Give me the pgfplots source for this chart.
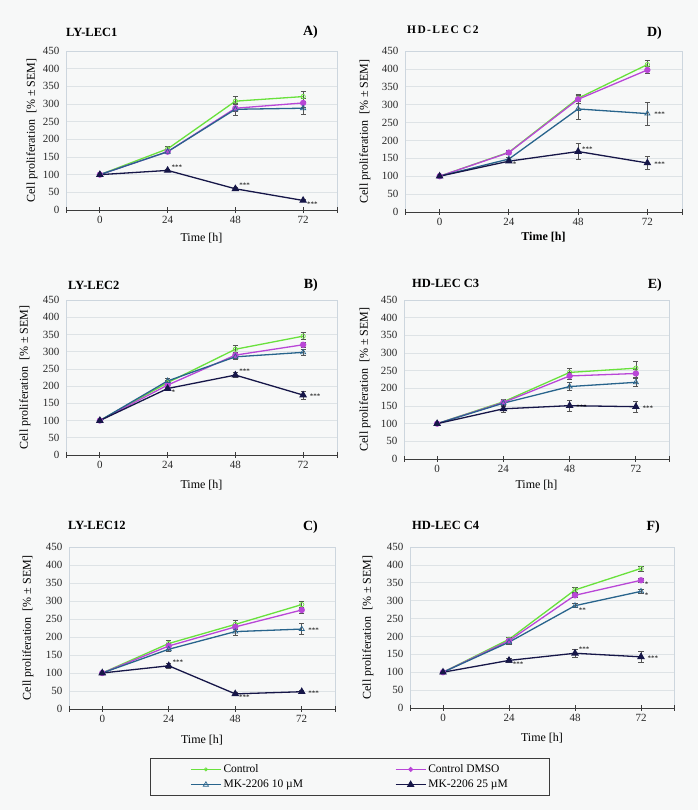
\documentclass[border=0pt]{standalone}
\usepackage{fontspec}
\setmainfont{Liberation Serif}
\usepackage{pgfplots}
\pgfplotsset{compat=1.18}
\definecolor{bgc}{RGB}{247,248,248}
\definecolor{cgreen}{RGB}{105,225,60}
\definecolor{cmag}{RGB}{185,70,215}
\definecolor{cblue}{RGB}{40,100,140}
\definecolor{cnavy}{RGB}{22,22,72}
\definecolor{errc}{RGB}{85,85,85}
\definecolor{gridc}{RGB}{222,227,230}
\definecolor{framec}{RGB}{205,214,222}
\definecolor{axisc}{RGB}{60,60,60}
\definecolor{tickc}{RGB}{40,40,40}
\tikzset{
 ast/.style={font=\fontsize{7}{8}\selectfont, inner sep=1pt, text=black},
 ptitle/.style={font=\bfseries\fontsize{12.5}{14}\selectfont, anchor=west, inner sep=0pt},
 pletter/.style={font=\bfseries\fontsize{14}{16}\selectfont, anchor=east, inner sep=0pt},
}
\pgfplotsset{
 panel/.style={
  scale only axis, anchor=south west, clip=false,
  xmin=-12,xmax=84,ymin=0,ymax=450,
  xtick={0,24,48,72}, ytick={0,50,...,450},
  extra x ticks={-12,84}, extra x tick labels={},
  ymajorgrids, grid style={draw=gridc, line width=0.6pt},
  axis line style={draw=framec, line width=0.6pt},
  xtick pos=bottom, ytick pos=left,
  ytick style={draw=none},
  xtick style={draw=axisc, line width=0.8pt},
  tick align=center, major tick length=6pt,
  ticklabel style={font=\fontsize{11}{12}\selectfont, text=tickc},
  /pgf/number format/assume math mode=true,
  xlabel={Time [h]},
  ylabel={Cell proliferation\ \ [\% ± SEM]},
  xlabel style={font=\fontsize{12}{14}\selectfont, at={(rel axis cs:0.5,0)}, anchor=center},
  ylabel style={font=\fontsize{12}{14}\selectfont, at={(rel axis cs:0,0.5)}, anchor=center},
  after end axis/.code={\draw[axisc, line width=0.9pt] (rel axis cs:0,0)--(rel axis cs:1,0);},
 },
 labsh/.style 2 args={xlabel style={yshift=-#1}, ylabel style={yshift=#2}},
 eb/.style={error bars/.cd, y dir=both, y explicit,
   error bar style={draw=errc, line width=0.7pt},
   error mark options={rotate=90, mark size=2.6pt, draw=errc, line width=0.7pt}},
 lctrl/.style={color=cgreen, line width=1.3pt, mark=o, mark size=2.2pt, mark options={solid, fill=white, line width=0.7pt}},
 ldmso/.style={color=cmag, line width=1.3pt, mark=*, mark size=2.5pt, mark options={solid, fill=cmag}},
 lmk10/.style={color=cblue, line width=1.3pt, mark=triangle, mark size=3pt, mark options={solid, fill=white, line width=0.7pt}},
 lmk25/.style={color=cnavy, line width=1.3pt, mark=triangle*, mark size=3.2pt, mark options={solid, fill=cnavy}},
 sctrl/.style={lctrl, eb},
 sdmso/.style={ldmso, eb},
 smk10/.style={lmk10, eb},
 smk25/.style={lmk25, eb},
}
\begin{document}
\begin{tikzpicture}
\fill[bgc] (0,0) rectangle (698pt,810pt);
\path[use as bounding box] (0,0) rectangle (698pt,810pt);

% ---------- A ----------
\begin{axis}[panel, at={(66pt,600pt)}, width=271pt, height=159pt, labsh={28pt}{34pt}]
\addplot[sctrl] coordinates {(0,100) +- (0,2) (24,173) +- (0,8) (48,308) +- (0,15) (72,321) +- (0,14)};
\addplot[sdmso] coordinates {(0,100) +- (0,2) (24,165) +- (0,6) (48,288) +- (0,10) (72,303) +- (0,12)};
\addplot[smk10] coordinates {(0,100) +- (0,2) (24,165) +- (0,6) (48,285) +- (0,16) (72,288) +- (0,18)};
\addplot[smk25] coordinates {(0,100) +- (0,2) (24,112) +- (0,3) (48,60) +- (0,3) (72,27) +- (0,3)};
\node[ast, anchor=south west] at (axis cs:25,112) {***};
\node[ast, anchor=south west] at (axis cs:49,60) {***};
\node[ast, anchor=north west] at (axis cs:73,27) {***};
\node[ptitle] at (rel axis cs:0,1) [yshift=19pt] {LY-LEC1};
\node[pletter] at (rel axis cs:1,1) [xshift=-19pt, yshift=19pt] {A)};
\end{axis}

% ---------- D ----------
\begin{axis}[panel, at={(405pt,598pt)}, width=277pt, height=161pt, xlabel={\textbf{Time [h]}}, labsh={25pt}{40pt}]
\addplot[sctrl] coordinates {(0,100) +- (0,3) (24,167) +- (0,5) (48,318) +- (0,10) (72,412) +- (0,12)};
\addplot[sdmso] coordinates {(0,100) +- (0,3) (24,166) +- (0,5) (48,315) +- (0,10) (72,397) +- (0,10)};
\addplot[smk10] coordinates {(0,100) +- (0,3) (24,148) +- (0,5) (48,288) +- (0,30) (72,275) +- (0,32)};
\addplot[smk25] coordinates {(0,100) +- (0,3) (24,142) +- (0,4) (48,169) +- (0,22) (72,137) +- (0,18)};
\node[ast, anchor=north west] at (axis cs:25,142) {*};
\node[ast, anchor=south west] at (axis cs:49,165) {***};
\node[ast, anchor=west] at (axis cs:74,272) {***};
\node[ast, anchor=west] at (axis cs:74,134) {***};
\node[ptitle, font=\bfseries\fontsize{11.5}{13}\selectfont\addfontfeatures{LetterSpace=12}] at (rel axis cs:0,1) [xshift=2pt, yshift=21pt] {HD-LEC C2};
\node[pletter] at (rel axis cs:1,1) [xshift=-20pt, yshift=18pt] {D)};
\end{axis}

% ---------- B ----------
\begin{axis}[panel, at={(66pt,355pt)}, width=271pt, height=155pt, labsh={30pt}{41pt}]
\addplot[sctrl] coordinates {(0,100) +- (0,3) (24,210) +- (0,8) (48,307) +- (0,10) (72,345) +- (0,10)};
\addplot[sdmso] coordinates {(0,100) +- (0,3) (24,203) +- (0,8) (48,290) +- (0,8) (72,320) +- (0,8)};
\addplot[smk10] coordinates {(0,100) +- (0,3) (24,215) +- (0,8) (48,285) +- (0,8) (72,298) +- (0,8)};
\addplot[smk25] coordinates {(0,100) +- (0,3) (24,193) +- (0,5) (48,232) +- (0,8) (72,174) +- (0,12)};
\node[ast, anchor=north west] at (axis cs:25,192) {*};
\node[ast, anchor=south west] at (axis cs:49,232) {***};
\node[ast, anchor=west] at (axis cs:74,170) {***};
\node[ptitle] at (rel axis cs:0,1) [xshift=2pt, yshift=15pt] {LY-LEC2};
\node[pletter] at (rel axis cs:1,1) [xshift=-19pt, yshift=15pt] {B)};
\end{axis}

% ---------- E ----------
\begin{axis}[panel, at={(404pt,351pt)}, width=265pt, height=159pt, labsh={26pt}{39pt}]
\addplot[sctrl] coordinates {(0,100) +- (0,3) (24,162) +- (0,8) (48,245) +- (0,12) (72,257) +- (0,18)};
\addplot[sdmso] coordinates {(0,100) +- (0,3) (24,160) +- (0,8) (48,235) +- (0,10) (72,242) +- (0,12)};
\addplot[smk10] coordinates {(0,100) +- (0,3) (24,158) +- (0,8) (48,205) +- (0,12) (72,217) +- (0,12)};
\addplot[smk25] coordinates {(0,100) +- (0,3) (24,142) +- (0,10) (48,151) +- (0,15) (72,148) +- (0,15)};
\node[ast, anchor=west] at (axis cs:50,147) {***};
\node[ast, anchor=west] at (axis cs:74,144) {***};
\node[ptitle] at (rel axis cs:0,1) [xshift=8pt, yshift=17pt] {HD-LEC C3};
\node[pletter] at (rel axis cs:1,1) [xshift=-7pt, yshift=15pt] {E)};
\end{axis}

% ---------- C ----------
\begin{axis}[panel, at={(69pt,101pt)}, width=266pt, height=162pt, labsh={31pt}{41pt}]
\addplot[sctrl] coordinates {(0,100) +- (0,3) (24,182) +- (0,8) (48,235) +- (0,10) (72,290) +- (0,10)};
\addplot[sdmso] coordinates {(0,100) +- (0,3) (24,175) +- (0,8) (48,228) +- (0,8) (72,275) +- (0,8)};
\addplot[smk10] coordinates {(0,100) +- (0,3) (24,166) +- (0,5) (48,215) +- (0,10) (72,222) +- (0,15)};
\addplot[smk25] coordinates {(0,100) +- (0,3) (24,120) +- (0,8) (48,42) +- (0,3) (72,48) +- (0,3)};
\node[ast, anchor=south west] at (axis cs:25,120) {***};
\node[ast, anchor=north west] at (axis cs:49,42) {***};
\node[ast, anchor=west] at (axis cs:74,218) {***};
\node[ast, anchor=west] at (axis cs:74,44) {***};
\node[ptitle] at (rel axis cs:0,1) [xshift=-1pt, yshift=22pt] {LY-LEC12};
\node[pletter] at (rel axis cs:1,1) [xshift=-17pt, yshift=20pt] {C)};
\end{axis}

% ---------- F ----------
\begin{axis}[panel, at={(410pt,102pt)}, width=264pt, height=161pt, labsh={30pt}{42pt}]
\addplot[sctrl] coordinates {(0,100) +- (0,3) (24,192) +- (0,5) (48,330) +- (0,6) (72,390) +- (0,7)};
\addplot[sdmso] coordinates {(0,100) +- (0,3) (24,188) +- (0,5) (48,315) +- (0,6) (72,357) +- (0,6)};
\addplot[smk10] coordinates {(0,100) +- (0,3) (24,184) +- (0,5) (48,286) +- (0,6) (72,326) +- (0,6)};
\addplot[smk25] coordinates {(0,100) +- (0,3) (24,133) +- (0,6) (48,153) +- (0,12) (72,143) +- (0,16)};
\node[ast, anchor=north west] at (axis cs:25,132) {***};
\node[ast, anchor=south west] at (axis cs:49,154) {***};
\node[ast, anchor=north west] at (axis cs:49,284) {**};
\node[ast, anchor=north west] at (axis cs:73,355) {*};
\node[ast, anchor=north west] at (axis cs:73,324) {*};
\node[ast, anchor=west] at (axis cs:74,140) {***};
\node[ptitle] at (rel axis cs:0,1) [xshift=2pt, yshift=22pt] {HD-LEC C4};
\node[pletter] at (rel axis cs:1,1) [xshift=-14pt, yshift=20pt] {F)};
\end{axis}

% ---------- legend ----------
\begin{axis}[hide axis, scale only axis, anchor=south west, at={(145pt,13pt)}, width=410pt, height=40pt,
  xmin=0,xmax=1,ymin=0,ymax=1,
  legend columns=2,
  legend style={at={(0.5,0.5)}, anchor=center, draw=axisc, line width=0.6pt, fill=bgc,
    font=\fontsize{11.5}{13}\selectfont, inner xsep=40pt, inner ysep=4pt,
    /tikz/every even column/.append style={column sep=90pt}, row sep=2pt},
  legend cell align=left,
  legend image code/.code={\draw[mark repeat=2, mark phase=2] plot coordinates {(0pt,0pt) (15pt,0pt) (30pt,0pt)};},
]
\addlegendimage{lctrl, mark size=1.6pt}
\addlegendentry{Control}
\addlegendimage{ldmso, mark size=1.8pt}
\addlegendentry{Control DMSO}
\addlegendimage{lmk10}
\addlegendentry{MK-2206 10 µM}
\addlegendimage{lmk25}
\addlegendentry{MK-2206 25 µM}
\end{axis}
\end{tikzpicture}
\end{document}
